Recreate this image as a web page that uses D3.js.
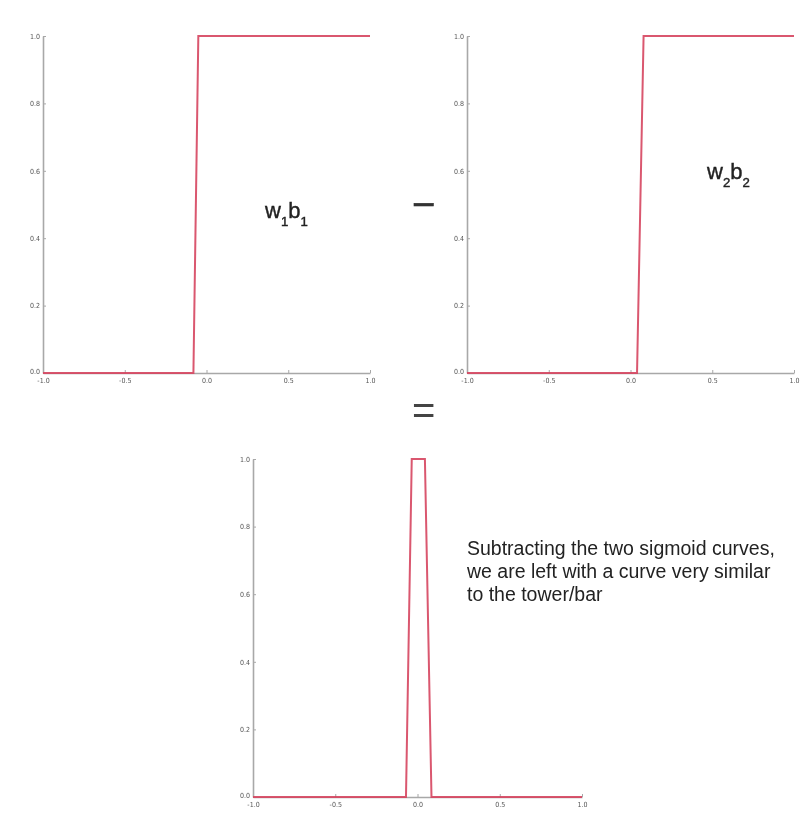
<!DOCTYPE html>
<html>
<head>
<meta charset="utf-8">
<script src="https://cdn.jsdelivr.net/npm/d3@7"></script>
<style>
  html, body { margin: 0; padding: 0; background: #fff; }
  svg { display: block; filter: blur(0.4px); }
</style>
</head>
<body>
<svg id="chart" width="804" height="821"></svg>
<script>
// ---- data ----
const xTickValues = [-1.0, -0.5, 0.0, 0.5, 1.0];
const yTickValues = [0.0, 0.2, 0.4, 0.6, 0.8, 1.0];

const sigmoid1X = [-1.0, -0.08, -0.05, 1.0];
const sigmoid1Y = [0, 0, 1, 1];

const sigmoid2X = [-1.0, 0.04, 0.08, 1.0];
const sigmoid2Y = [0, 0, 1, 1];

const towerX = [-1.0, -0.07, -0.035, 0.045, 0.085, 1.0];
const towerY = [0, 0, 1, 1, 0, 0];

const captionLines = [
  "Subtracting the two sigmoid curves,",
  "we are left with a curve very similar",
  "to the tower/bar"
];

// ---- drawing ----
const svg = d3.select("#chart");
const fmt = v => d3.format(".1f")(v).replace("\u2212", "-");
const lineColor = "#d6455f";
const axisColor = "#a8a8a8";

function panel(box, xs, ys) {
  const x = d3.scaleLinear().domain([-1, 1]).range([box.left, box.right]);
  const y = d3.scaleLinear().domain([0, 1]).range([box.bottom, box.top]);
  const g = svg.append("g");

  const ax = g.append("g")
    .attr("transform", `translate(0,${box.bottom})`)
    .call(d3.axisBottom(x).tickValues(xTickValues).tickFormat(fmt)
      .tickSizeInner(-3).tickSizeOuter(0).tickPadding(5));
  const ay = g.append("g")
    .attr("transform", `translate(${box.left},0)`)
    .call(d3.axisLeft(y).tickValues(yTickValues).tickFormat(fmt)
      .tickSizeInner(-3).tickSizeOuter(0).tickPadding(3));

  [ax, ay].forEach(a => {
    a.select(".domain").attr("stroke", axisColor).attr("stroke-width", 1.6);
    a.selectAll(".tick line").attr("stroke", axisColor).attr("stroke-width", 1);
    a.selectAll(".tick text")
      .attr("fill", "#555")
      .style("font-family", "'DejaVu Sans Condensed', 'DejaVu Sans', sans-serif")
      .style("font-size", "7px");
  });
  // nudge the 0.0 y label up a touch so it does not collide with the -1.0 x label
  ay.selectAll(".tick text").filter(d => d === 0).attr("dy", "0.1em");

  const pts = xs.map((v, i) => [v, ys[i]]);
  g.append("path")
    .datum(pts)
    .attr("fill", "none")
    .attr("stroke", lineColor)
    .attr("stroke-opacity", 0.9)
    .attr("stroke-width", 2)
    .attr("stroke-linejoin", "miter")
    .attr("d", d3.line().x(d => x(d[0])).y(d => y(d[1])));
}

panel({left: 43, right: 370, top: 36, bottom: 373}, sigmoid1X, sigmoid1Y);
panel({left: 467, right: 794, top: 36, bottom: 373}, sigmoid2X, sigmoid2Y);
panel({left: 253, right: 582, top: 459, bottom: 797}, towerX, towerY);

const textFont = "'Liberation Sans', Arial, sans-serif";

function wb(xPos, yPos, sub, size) {
  const t = svg.append("text")
    .attr("x", xPos).attr("y", yPos)
    .style("font-family", textFont)
    .style("font-size", size + "px")
    .attr("fill", "#222")
    .attr("stroke", "#222")
    .attr("stroke-width", 0.4);
  t.append("tspan").text("w");
  t.append("tspan").attr("dy", 8).style("font-size", (size * 0.6) + "px").text(sub);
  t.append("tspan").attr("dy", -8).text("b");
  t.append("tspan").attr("dy", 8).style("font-size", (size * 0.6) + "px").text(sub);
}
wb(265, 218, "1", 22);
wb(707, 179, "2", 22);

svg.append("text")
  .attr("x", 412).attr("y", 218)
  .style("font-family", textFont)
  .style("font-size", "40px")
  .attr("fill", "#333")
  .attr("stroke", "#333")
  .attr("stroke-width", 0.6)
  .text("−");

svg.append("text")
  .attr("x", 412).attr("y", 424)
  .style("font-family", textFont)
  .style("font-size", "40px")
  .attr("fill", "#444")
  .text("=");

svg.append("g").selectAll("text")
  .data(captionLines)
  .join("text")
  .attr("x", 467)
  .attr("y", (d, i) => 555 + i * 23)
  .style("font-family", textFont)
  .style("font-size", "19.5px")
  .attr("fill", "#222")
  .text(d => d);
</script>
</body>
</html>
